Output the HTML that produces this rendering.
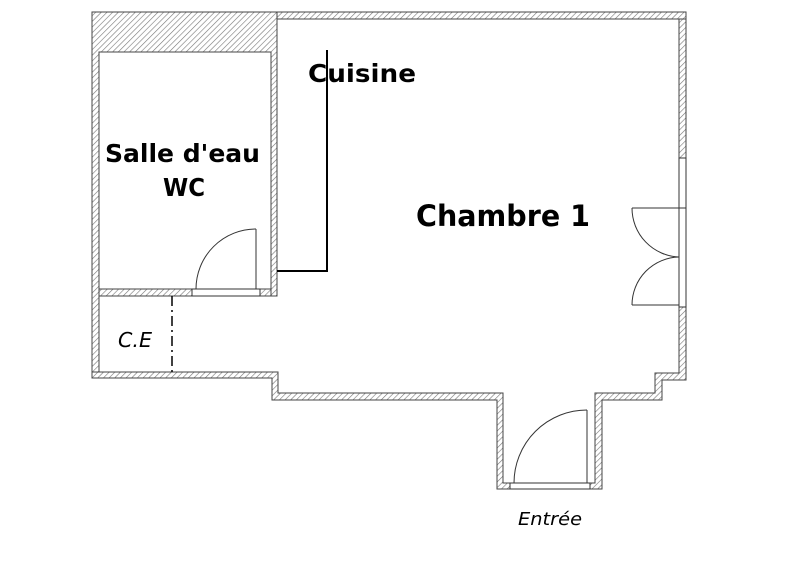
<!DOCTYPE html>
<html><head><meta charset="utf-8"><style>
html,body{margin:0;padding:0;background:#fff;width:800px;height:565px;overflow:hidden}
svg{display:block}
text{font-family:"DejaVu Sans","Liberation Sans",sans-serif;fill:#000}
</style></head><body>
<svg width="800" height="565" viewBox="0 0 800 565" xmlns="http://www.w3.org/2000/svg">
<defs>
<pattern id="h" patternUnits="userSpaceOnUse" width="4" height="4" patternTransform="rotate(45)">
<rect width="4" height="4" fill="#fff"/><line x1="0" y1="0" x2="0" y2="4" stroke="#777" stroke-width="1.2"/>
</pattern>
</defs>
<g fill="url(#h)" stroke="#444" stroke-width="1">
<path d="M92,12 H277 V19 H277 V296 H271 V52 H99 V378 H92 Z"/>
<rect x="277" y="12" width="409" height="7"/>
<rect x="679" y="19" width="7" height="139"/>
<path d="M679,307 H686 V380 H662 V400 H602 V489 H590 V483 H595 V393 H655 V373 H679 Z"/>
<path d="M92,372 H278 V393 H503 V483 H510 V489 H497 V400 H272 V378 H92 Z"/>
<rect x="99" y="289" width="93" height="7"/>
<rect x="260" y="289" width="11" height="7"/>
</g>
<g fill="none" stroke="#333" stroke-width="1">
<rect x="679" y="158" width="7" height="149"/>
<line x1="679" y1="208" x2="686" y2="208"/>
<line x1="632" y1="208" x2="679" y2="208"/>
<path d="M632,208 A49,49 0 0 0 679,257"/>
<line x1="632" y1="305" x2="679" y2="305"/>
<path d="M632,305 A48,48 0 0 1 679,257"/>
<rect x="192" y="289" width="68" height="7"/>
<line x1="256" y1="229" x2="256" y2="289"/>
<path d="M256,229 A60,60 0 0 0 196,289"/>
<rect x="510" y="483" width="80" height="6"/>
<line x1="587" y1="410" x2="587" y2="483"/>
<path d="M587,410 A73,73 0 0 0 514,483"/>
</g>
<path d="M327,50 V271 H277" fill="none" stroke="#000" stroke-width="2"/>
<line x1="172" y1="296" x2="172" y2="372" stroke="#000" stroke-width="1.5" stroke-dasharray="10,4,2,4"/>
<text x="308" y="82" font-size="25" font-weight="bold" textLength="108" lengthAdjust="spacingAndGlyphs">Cuisine</text>
<text x="416" y="226" font-size="29" font-weight="bold" textLength="174" lengthAdjust="spacingAndGlyphs">Chambre 1</text>
<text x="105" y="162" font-size="25" font-weight="bold" textLength="155" lengthAdjust="spacingAndGlyphs">Salle d'eau</text>
<text x="163" y="196" font-size="25" font-weight="bold" textLength="42" lengthAdjust="spacingAndGlyphs">WC</text>
<text x="118" y="347" font-size="20" font-style="italic" textLength="34" lengthAdjust="spacingAndGlyphs">C.E</text>
<text x="518" y="525" font-size="18" font-style="italic" textLength="64" lengthAdjust="spacingAndGlyphs">Entrée</text>
</svg>
</body></html>
